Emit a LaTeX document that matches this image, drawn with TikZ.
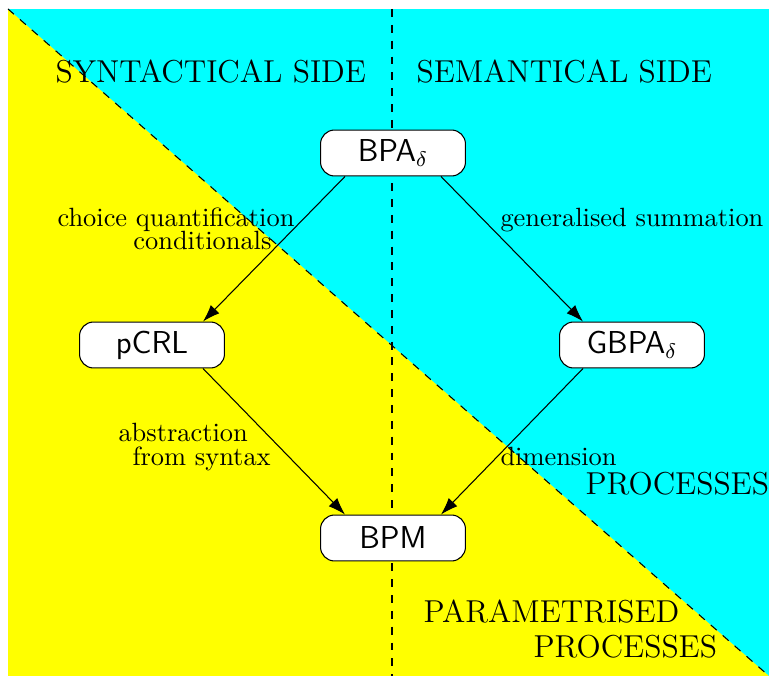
\documentclass[tikz,border=0pt]{standalone}
\usetikzlibrary{arrows.meta,calc}
\definecolor{bgcyan}{RGB}{0,255,255}
\definecolor{bgyellow}{RGB}{255,255,0}
\begin{document}
\begin{tikzpicture}[x=0.3788pt,y=-0.3788pt,
  box/.style={draw,fill=white,rounded corners=5.3pt,minimum width=54.9pt,minimum height=17.4pt,inner sep=0pt,font=\sffamily\fontsize{12pt}{14pt}\selectfont},
  lab/.style={inner sep=0pt,font=\normalsize},
  head/.style={inner sep=0pt,font=\large},
  arr/.style={-{Latex[length=6.5pt,width=4.5pt]}}]
\useasboundingbox (0,0) rectangle (769,676);
\fill[bgcyan] (8,9) rectangle (769,676);
\fill[bgyellow] (8,9) -- (769,676) -- (8,676) -- cycle;
\draw[dashed] (8,9) -- (769,676);
\draw[dashed,thick] (392,9) -- (392,676);

\node[head,anchor=base west] (syn) at (55,83) {SYNTACTICAL SIDE};
\node[head,anchor=base west] (sem) at (416,83) {SEMANTICAL SIDE};
\node[lab,anchor=base west] (choice) at (57,227) {choice quantification};
\node[lab,anchor=base east] (cond) at (272,250) {conditionals};
\node[lab,anchor=base west] (gensum) at (500,227) {generalised summation};
\node[lab,anchor=base west] (abs) at (118,442) {abstraction};
\node[lab,anchor=base west] (fromsyn) at (132,466) {from syntax};
\node[lab,anchor=base west] (dim) at (500,466) {dimension};
\node[head,anchor=base west] (proc) at (585,495) {PROCESSES};
\node[head,anchor=base west] (param) at (423,623) {PARAMETRISED};
\node[head,anchor=base west] (pproc) at (533,657) {PROCESSES};

\node[box] (BPA) at (393,153) {BPA$_\delta$};
\node[box] (pCRL) at (152,345) {pCRL};
\node[box] (GBPA) at (632,345) {GBPA$_\delta$};
\node[box] (BPM) at (393,538) {BPM};

\draw[arr] ($(BPA.south)+(-48,0)$) -- ($(pCRL.north)+(51,0)$);
\draw[arr] ($(BPA.south)+(48,0)$) -- ($(GBPA.north)+(-49,0)$);
\draw[arr] ($(pCRL.south)+(51,0)$) -- ($(BPM.north)+(-48,0)$);
\draw[arr] ($(GBPA.south)+(-49,0)$) -- ($(BPM.north)+(48,0)$);
\end{tikzpicture}
\end{document}
